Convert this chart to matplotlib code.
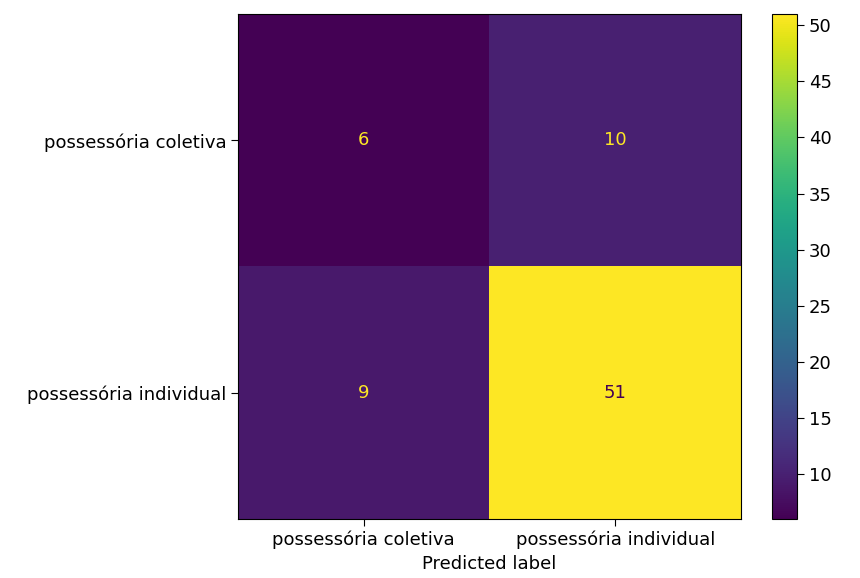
import numpy as np
import matplotlib
matplotlib.use("Agg")
import matplotlib.pyplot as plt

labels = ["possessória coletiva", "possessória individual"]
counts = np.array([[6, 10],
                   [9, 51]])

fig = plt.figure(figsize=(8.6, 5.78), dpi=100)
W, H = 860, 578
ax = fig.add_axes([238 / W, (H - 519) / H, 503 / W, 505 / H])
cax = fig.add_axes([772 / W, (H - 519) / H, 25 / W, 505 / H])

cmap = plt.get_cmap("viridis")
im = ax.imshow(counts, cmap=cmap, interpolation="nearest", aspect="auto")

fs = 13
vmin, vmax = counts.min(), counts.max()
thresh = (vmin + vmax) / 2.0
for i in range(counts.shape[0]):
    for j in range(counts.shape[1]):
        color = cmap(0.0) if counts[i, j] >= thresh else cmap(1.0)
        ax.text(j, i, f"{counts[i, j]}", ha="center", va="center",
                color=color, fontsize=fs)

ax.set_xticks(range(len(labels)))
ax.set_xticklabels(labels, fontsize=fs)
ax.set_yticks(range(len(labels)))
ax.set_yticklabels(labels, fontsize=fs)
ax.set_xlabel("Predicted label", fontsize=fs, labelpad=4)
ax.tick_params(length=5)

cb = fig.colorbar(im, cax=cax)
cb.set_ticks([10, 15, 20, 25, 30, 35, 40, 45, 50])
cb.ax.tick_params(labelsize=fs, length=5)
cb.outline.set_linewidth(0.8)

fig.savefig("out.png", dpi=100)
